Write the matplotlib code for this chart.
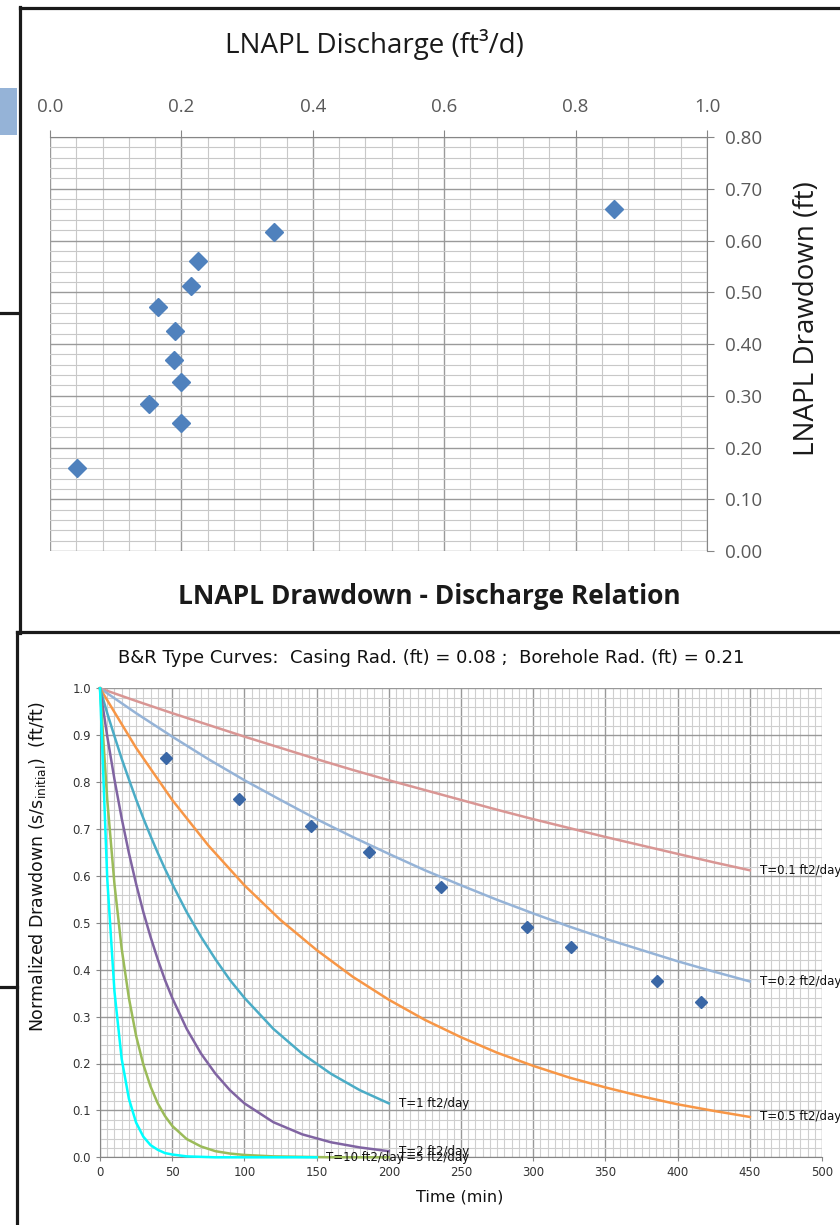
import matplotlib
matplotlib.use("Agg")
import matplotlib.pyplot as plt
from matplotlib.lines import Line2D
from matplotlib.patches import Rectangle
from matplotlib.ticker import MultipleLocator, FormatStrFormatter

### Data : top chart - LNAPL drawdown vs discharge ------------------------------
discharge = [0.859, 0.341, 0.226, 0.214, 0.165, 0.191, 0.189, 0.200, 0.150, 0.199, 0.041]
drawdown = [0.661, 0.616, 0.561, 0.513, 0.472, 0.425, 0.369, 0.326, 0.285, 0.247, 0.160]

### Data : bottom chart - measured normalized drawdown -------------------------
time_obs = [46, 96, 146, 186, 236, 296, 326, 386, 416]
norm_obs = [0.851, 0.764, 0.707, 0.650, 0.577, 0.492, 0.448, 0.375, 0.331]

### Data : B&R type curves -----------------------------------------------------
t_long = [0, 25, 50, 75, 100, 125, 150, 175, 200, 225, 250, 275, 300, 325, 350, 375, 400, 425, 450]
curve_t01 = [1.000, 0.973, 0.947, 0.922, 0.897, 0.873, 0.849, 0.826, 0.804, 0.783, 0.762, 0.741,
             0.721, 0.702, 0.683, 0.665, 0.647, 0.629, 0.612]
curve_t02 = [1.000, 0.947, 0.897, 0.849, 0.804, 0.762, 0.721, 0.683, 0.647, 0.612, 0.580, 0.549,
             0.520, 0.492, 0.466, 0.442, 0.418, 0.396, 0.375]
curve_t05 = [1.000, 0.873, 0.762, 0.665, 0.580, 0.506, 0.442, 0.385, 0.336, 0.293, 0.256, 0.223,
             0.195, 0.170, 0.149, 0.130, 0.113, 0.099, 0.086]

t_short = [0, 5, 10, 15, 20, 25, 30, 35, 40, 45, 50, 60, 70, 80, 90, 100, 120, 140, 160, 180, 200]
curve_t1 = [1.000, 0.947, 0.898, 0.850, 0.806, 0.763, 0.723, 0.685, 0.649, 0.615, 0.583, 0.523,
            0.470, 0.422, 0.378, 0.340, 0.274, 0.221, 0.178, 0.143, 0.115]
curve_t2 = [1.000, 0.898, 0.806, 0.723, 0.649, 0.583, 0.523, 0.470, 0.422, 0.378, 0.340, 0.274,
            0.221, 0.178, 0.143, 0.115, 0.075, 0.049, 0.032, 0.021, 0.013]
curve_t5 = [1.000, 0.763, 0.583, 0.445, 0.340, 0.259, 0.198, 0.151, 0.115, 0.088, 0.067, 0.039,
            0.023, 0.013, 0.008, 0.005, 0.002, 0.001, 0.000, 0.000, 0.000]

t_t10 = [0, 5, 10, 15, 20, 25, 30, 35, 40, 45, 50, 60, 70, 80, 90, 100, 125, 150]
curve_t10 = [1.000, 0.595, 0.354, 0.210, 0.125, 0.074, 0.044, 0.026, 0.016, 0.009, 0.006, 0.002,
             0.001, 0.000, 0.000, 0.000, 0.000, 0.000]

curves = [
    (t_long, curve_t01, "#D99694", "T=0.1 ft2/day"),
    (t_long, curve_t02, "#95B3D7", "T=0.2 ft2/day"),
    (t_long, curve_t05, "#F79646", "T=0.5 ft2/day"),
    (t_short, curve_t1, "#4BACC6", "T=1 ft2/day"),
    (t_short, curve_t2, "#8064A2", "T=2 ft2/day"),
    (t_short, curve_t5, "#9BBB59", "T=5 ft2/day"),
    (t_t10, curve_t10, "#00FFFF", "T=10 ft2/day"),
]

W, H = 840.0, 1225.0
fig = plt.figure(figsize=(8.4, 12.25), dpi=100)

### Top chart ------------------------------------------------------------------
top_font = "Open Sans"
ax1 = fig.add_axes([50 / W, 1 - 551 / H, 657 / W, 414 / H])
ax1.set_xlim(0, 1.0)
ax1.set_ylim(0, 0.8)
ax1.xaxis.set_major_locator(MultipleLocator(0.2))
ax1.xaxis.set_minor_locator(MultipleLocator(0.04))
ax1.yaxis.set_major_locator(MultipleLocator(0.1))
ax1.yaxis.set_minor_locator(MultipleLocator(0.02))
ax1.xaxis.set_major_formatter(FormatStrFormatter("%.1f"))
ax1.yaxis.set_major_formatter(FormatStrFormatter("%.2f"))
ax1.xaxis.tick_top()
ax1.yaxis.tick_right()
ax1.grid(which="major", color="#9a9a9a", lw=1.0)
ax1.grid(which="minor", color="#c8c8c8", lw=0.8)
ax1.set_axisbelow(True)
for s in ["left", "bottom"]:
    ax1.spines[s].set_visible(False)
for s in ["top", "right"]:
    ax1.spines[s].set_color("#868686")
ax1.tick_params(which="major", length=5, color="#868686", labelcolor="#595959", labelsize=13.5)
ax1.tick_params(axis="x", which="major", pad=10)
ax1.tick_params(axis="y", which="major", pad=8)
ax1.tick_params(which="minor", length=0)
for lab in ax1.get_xticklabels() + ax1.get_yticklabels():
    lab.set_fontfamily(top_font)

ax1.plot(discharge, drawdown, linestyle="none", marker="D", markersize=9,
         color="#4F81BD", markeredgecolor="#4F81BD", zorder=3)

fig.text(374 / W, 1 - 45 / H, "LNAPL Discharge (ft³/d)", ha="center", va="center",
         fontsize=20, family=top_font, color="#1a1a1a")
fig.text(807 / W, 1 - 319 / H, "LNAPL Drawdown (ft)", ha="center", va="center",
         rotation=90, fontsize=20, family=top_font, color="#1a1a1a")
fig.text(429 / W, 1 - 596 / H, "LNAPL Drawdown - Discharge Relation", ha="center", va="center",
         fontsize=19, fontweight="bold", family=top_font, color="#1a1a1a")

### Bottom chart ---------------------------------------------------------------
ax2 = fig.add_axes([100 / W, 1 - 1157.3 / H, 722 / W, 469 / H])
ax2.set_xlim(0, 500)
ax2.set_ylim(0, 1.0)
ax2.xaxis.set_major_locator(MultipleLocator(50))
ax2.xaxis.set_minor_locator(MultipleLocator(5))
ax2.yaxis.set_major_locator(MultipleLocator(0.1))
ax2.yaxis.set_minor_locator(MultipleLocator(0.02))
ax2.yaxis.set_major_formatter(FormatStrFormatter("%.1f"))
ax2.grid(which="major", color="#999999", lw=1.0)
ax2.grid(which="minor", color="#cfcfcf", lw=0.8)
ax2.set_axisbelow(True)
for s in ["top", "right"]:
    ax2.spines[s].set_visible(False)
for s in ["left", "bottom"]:
    ax2.spines[s].set_color("#868686")
ax2.tick_params(which="major", length=3, color="#868686", labelcolor="#333333", labelsize=8.5)
ax2.tick_params(which="minor", length=0)

for tt, vals, col, name in curves:
    ax2.plot(tt, vals, color=col, lw=1.8, zorder=3, clip_on=False)
    ax2.annotate(name, xy=(tt[-1], vals[-1]), xytext=(7, 0), textcoords="offset points",
                 ha="left", va="center", fontsize=8.5, color="#111111", zorder=4)

ax2.plot(time_obs, norm_obs, linestyle="none", marker="D", markersize=6,
         color="#3A67A6", markeredgecolor="#3A67A6", zorder=5)

fig.text(431 / W, 1 - 658 / H,
         "B&R Type Curves:  Casing Rad. (ft) = 0.08 ;  Borehole Rad. (ft) = 0.21",
         ha="center", va="center", fontsize=13, color="#111111")
fig.text(460 / W, 1 - 1197 / H, "Time (min)", ha="center", va="center", fontsize=11.5,
         color="#111111")
fig.text(38 / W, 1 - 867 / H, "Normalized Drawdown (s/s$_{\\mathrm{initial}}$)  (ft/ft)",
         ha="center", va="center", rotation=90, fontsize=12.5, color="#111111")

### Panel frames and left-edge pieces -----------------------------------------
def fline(x0, y0, x1, y1, lw=2.3):
    fig.add_artist(Line2D([x0 / W, x1 / W], [1 - y0 / H, 1 - y1 / H],
                          transform=fig.transFigure, color="#1a1a1a", lw=lw))

fline(19.5, 8, W, 8)
fline(19.5, 7, 19.5, 633)
fline(17, 632, W, 632)
fline(17, 632, 17, H)
fline(0, 313, 19, 313)
fline(0, 987, 17, 987)
fig.add_artist(Rectangle((0, 1 - 135 / H), 17 / W, 47 / H, transform=fig.transFigure,
                         facecolor="#95B3D7", edgecolor="none"))

fig.savefig("out.png", dpi=100)
